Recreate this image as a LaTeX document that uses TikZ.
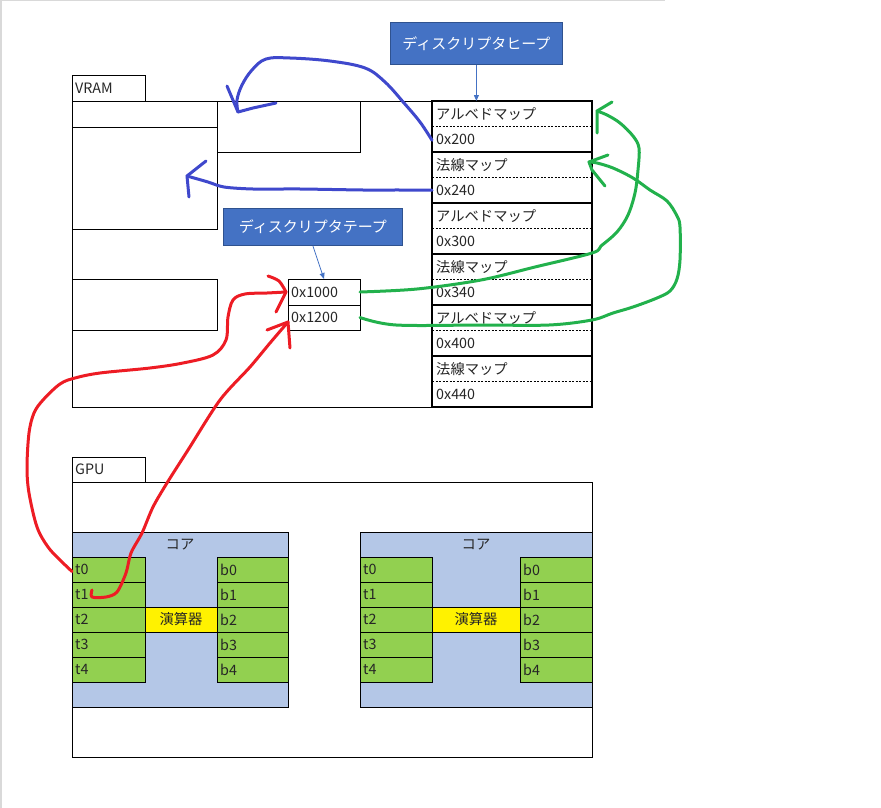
\documentclass[tikz,border=0pt]{standalone}
\usepackage{fontspec}
\setmainfont{Noto Sans CJK JP}
\usetikzlibrary{arrows.meta}
\definecolor{callout}{HTML}{4472C4}
\definecolor{calloutedge}{HTML}{2F528F}
\definecolor{thinarrow}{HTML}{4472C4}
\definecolor{handblue}{HTML}{3F48CC}
\definecolor{handred}{HTML}{ED1C24}
\definecolor{handgreen}{HTML}{22B14C}
\definecolor{corefill}{HTML}{B4C7E7}
\definecolor{cellgreen}{HTML}{92D050}
\definecolor{framegray}{HTML}{D9D9D9}
\definecolor{txt}{HTML}{262626}
\begin{document}
\begin{tikzpicture}[x=1pt,y=-1pt,
  box/.style={draw=black,line width=0.9pt,anchor=north west,inner sep=0pt,outer sep=0pt},
  tbl/.style={draw=black,line width=2.4pt},
  rowbox/.style={anchor=north west,inner sep=0pt,outer sep=0pt,minimum width=160pt,minimum height=25.5pt},
  dashline/.style={draw=black,line width=0.6pt,dash pattern=on 2pt off 1.5pt},
  lbl/.style={anchor=west,inner sep=0pt,font=\fontsize{14.3}{16}\selectfont,text=txt},
  clbl/.style={inner sep=0pt,font=\fontsize{14.3}{16}\selectfont,text=txt},
  calloutbox/.style={draw=calloutedge,fill=callout,line width=0.8pt,anchor=north west,inner sep=0pt,
     text=white,font=\fontsize{15}{17}\selectfont},
  thinarr/.style={draw=thinarrow,line width=0.8pt,-{Triangle[length=6pt,width=5pt]}},
  hand/.style={line width=3pt,line cap=round,line join=round},
  corebox/.style={box,fill=corefill},
  gcell/.style={box,fill=cellgreen,minimum height=25pt},
  ycell/.style={box,fill=yellow,minimum height=25pt,font=\fontsize{14.3}{16}\selectfont,text=txt}
]
\useasboundingbox (0,0) rectangle (881,808);
% window frame lines
\draw[framegray,line width=1.5pt] (0,0.75) -- (665,0.75);
\draw[framegray,line width=1.5pt] (0.75,0) -- (0.75,808);

% ---------------- VRAM ----------------
\node[box,minimum width=73pt,minimum height=26pt] (vramtab) at (72,75) {};
\node[lbl] at ([xshift=3pt]vramtab.west) {VRAM};
\node[box,minimum width=520pt,minimum height=306pt] (vram) at (72,101) {};
\node[box,minimum width=145pt,minimum height=26pt] (v1) at (72,101) {};
\node[box,minimum width=145pt,minimum height=102pt] (v2) at (72,127) {};
\node[box,minimum width=143pt,minimum height=51pt] (v3) at (217,101) {};
\node[box,minimum width=145pt,minimum height=51pt] (v4) at (72,279) {};
% descriptor table entries
\node[box,minimum width=72pt,minimum height=26pt] (d1000) at (288,279) {};
\node[lbl] at ([xshift=3pt]d1000.west) {0x1000};
\node[box,minimum width=72pt,minimum height=25pt] (d1200) at (288,305) {};
\node[lbl] at ([xshift=3pt]d1200.west) {0x1200};

% descriptor heap table
\foreach \k/\nm/\ad in {0/アルベドマップ/0x200,1/法線マップ/0x240,2/アルベドマップ/0x300,3/法線マップ/0x340,4/アルベドマップ/0x400,5/法線マップ/0x440}{
  \node[rowbox,fill=white] (L\k) at (432,{101+51*\k}) {};
  \node[rowbox,fill=white] (A\k) at (432,{126.5+51*\k}) {};
  \draw[dashline] (L\k.south west) -- (L\k.south east);
  \node[lbl] at ([xshift=4pt]L\k.west) {\nm};
  \node[lbl] at ([xshift=4pt]A\k.west) {\ad};
}
\foreach \k in {0,...,5}{
  \draw[tbl] (L\k.north west) rectangle (A\k.south east);
}

% callouts
\node[calloutbox,minimum width=172pt,minimum height=42pt] (heap) at (390,22) {ディスクリプタヒープ};
\draw[thinarr] (heap.south) -- (heap.south |- L0.north);
\node[calloutbox,minimum width=179pt,minimum height=37pt] (dtab) at (223,208) {ディスクリプタテープ};
\draw[thinarr] (dtab.south) -- (d1000.north);

% ---------------- GPU ----------------
\node[box,minimum width=73pt,minimum height=25pt] (gputab) at (72,457) {};
\node[lbl] at ([xshift=3pt]gputab.west) {GPU};
\node[box,minimum width=520pt,minimum height=275pt] (gpu) at (72,482) {};

% core 1
\node[corebox,minimum width=216pt,minimum height=175pt] (core1) at (72,532) {};
\node[clbl] at (180,545) {コア};
\foreach \i in {0,...,4}{
  \node[gcell,minimum width=73pt] (ta\i) at (72,{557+25*\i}) {};
  \node[lbl] at ([xshift=3pt]ta\i.west) {t\i};
  \node[gcell,minimum width=71pt] (ba\i) at (217,{557+25*\i}) {};
  \node[lbl] at ([xshift=3pt]ba\i.west) {b\i};
}
\node[ycell,minimum width=72pt] (alu1) at (145,607) {演算器};

% core 2
\node[corebox,minimum width=232pt,minimum height=175pt] (core2) at (360,532) {};
\node[clbl] at (476,545) {コア};
\foreach \i in {0,...,4}{
  \node[gcell,minimum width=72pt] (tb\i) at (360,{557+25*\i}) {};
  \node[lbl] at ([xshift=3pt]tb\i.west) {t\i};
  \node[gcell,minimum width=72pt] (bb\i) at (520,{557+25*\i}) {};
  \node[lbl] at ([xshift=3pt]bb\i.west) {b\i};
}
\node[ycell,minimum width=88pt] (alu2) at (432,607) {演算器};

% ---------------- hand-drawn arrows ----------------
% blue 1: 0x200 -> v3 area
\coordinate (bt1) at (238,112);
\draw[hand,handblue] plot[smooth,tension=0.6] coordinates {([yshift=-1pt]A0.west) (420,122) (404,103) (385,82) (365,68) (330,61) (290,58) (266,59) (252,70) (242,85) (237,100) (bt1)};
\draw[hand,handblue] (227,86) -- (bt1) -- (253,108) -- (276,103);
% blue 2: 0x240 -> v2
\coordinate (bt2) at (187,176);
\draw[hand,handblue] plot[smooth,tension=0.5] coordinates {(A1.west) (400,190) (363,190) (300,189) (253,189) (224,187) (208,182) (bt2)};
\draw[hand,handblue] (206,161) -- (bt2) -- (189,197);

% red 1: t0 -> 0x1000
\coordinate (rt1) at (286,292);
\draw[hand,handred] plot[smooth,tension=0.55] coordinates {([yshift=-2pt]ta0.west) (60,560) (48,547) (37,527) (29,493) (27,467) (29,433) (34,413) (43,400) (60,384) (75,378) (100,373) (150,368) (183,363) (213,355) (226,340) (228,317) (233,300) (245,294) (267,293) (rt1)};
\draw[hand,handred] plot[smooth] coordinates {(268,276) (279,281) (rt1)};
\draw[hand,handred] plot[smooth] coordinates {(rt1) (281,302) (276,312)};
% red 2: t1 -> 0x1200
\coordinate (rt2) at (288,322);
\draw[hand,handred] plot[smooth,tension=0.5] coordinates {(92,590) (92,597) (106,597) (117,592) (126,573) (131,553) (142,533) (153,507) (167,483) (188,450) (220,400) (250,367) (270,343) (rt2)};
\draw[hand,handred] (267,330) -- (rt2) -- (290,348);

% green 1: 0x1000 -> albedo 0x200
\coordinate (gt1) at (597,111);
\draw[hand,handgreen] plot[smooth,tension=0.55] coordinates {(d1000.east) (417,289) (481,280) (535,267) (592,253) (601,246) (617,232) (628,215) (635,193) (638,170) (639,148) (633,136) (620,123) (607,115) (gt1)};
\draw[hand,handgreen] (612,102) -- (gt1) -- (597,133);
% green 2: 0x1200 -> normal 0x240
\coordinate (gt2) at (589,162);
\draw[hand,handgreen] plot[smooth,tension=0.55] coordinates {(d1200.east) (396,325) (481,325) (549,325) (592,320) (613,313) (633,307) (657,298) (670,291) (677,279) (680,260) (680,227) (677,216) (667,201) (650,190) (633,178) (613,168) (597,163) (gt2)};
\draw[hand,handgreen] (608,155) -- (gt2) -- (592,170) -- (605,186);
\end{tikzpicture}
\end{document}
